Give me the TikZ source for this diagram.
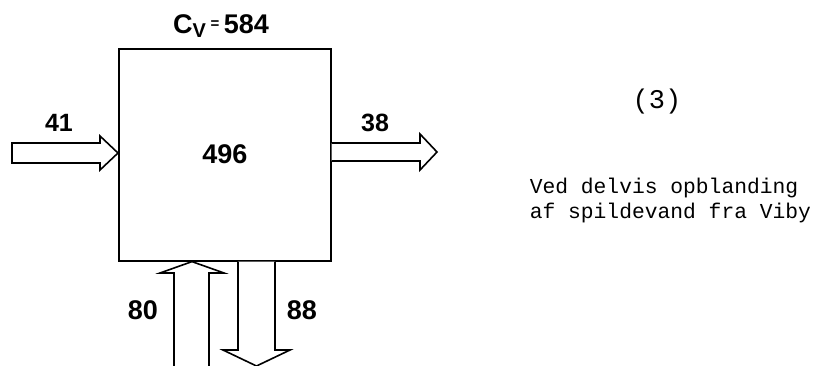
\documentclass[tikz,border=0pt]{standalone}
\usepackage{fontspec}
\setmainfont{Liberation Sans}
\newfontfamily\monof{Liberation Mono}
\begin{document}
\begin{tikzpicture}[x=1pt,y=-1pt,
  line width=1.6pt, line join=miter,
  lbl/.style={font=\bfseries\fontsize{25}{27}\selectfont, anchor=base, inner sep=0pt},
  biglbl/.style={font=\bfseries\fontsize{27}{29}\selectfont, anchor=base, inner sep=0pt},
  mono/.style={font=\monof\fontsize{21.3}{25}\selectfont, anchor=base west, inner sep=0pt},
  flow/.style={draw=black, fill=white, line width=1.6pt}]
\clip (0,0) rectangle (814,365);
\useasboundingbox (0,0) rectangle (814,365);
% box
\node[draw, line width=1.6pt, minimum width=212pt, minimum height=212pt, inner sep=0pt, anchor=north west] (box) at (118,48) {};
% inflow left
\draw[flow] (12,143) -- (100,143) -- (100,136) -- (box.west |- 0,153) -- (100,170) -- (100,163) -- (12,163) -- cycle;
% outflow right
\draw[flow] (box.east |- 0,143) -- (420,143) -- (420,134) -- (437,152) -- (420,170) -- (420,161) -- (box.east |- 0,161);
% up arrow (80)
\draw[flow] (174,370) -- (174,273) -- (160,273) -- (box.south -| 192,0) -- (224,273) -- (209,273) -- (209,370);
% down arrow (88)
\draw[flow] (box.south -| 238,0) -- (238,350) -- (223,350) -- (256.5,366) -- (290,350) -- (275,350) -- (box.south -| 275,0);
% labels
\node[lbl] (l41) at (59,131) {41};
\node[lbl] (l38) at (375,131) {38};
\node[biglbl] (l496) at (box.center |- 0,163) {496};
\node[biglbl] (l80) at (143,319) {80};
\node[biglbl] (l88) at (302,319) {88};
\node[font=\bfseries\fontsize{27}{29}\selectfont, anchor=base, inner sep=0pt] (cv) at (221,33) {C\raisebox{-0.3ex}{\fontsize{20}{22}\selectfont V}\,\raisebox{0.35ex}{\fontsize{15}{16}\selectfont =}\,584};
\node[font=\monof\fontsize{27}{30}\selectfont, anchor=base, inner sep=0pt] (num) at (657,108) {(3)};
\node[mono] (t1) at (529,193) {Ved delvis opblanding};
\node[mono] (t2) at (529,218) {af spildevand fra Viby};
\end{tikzpicture}
\end{document}
